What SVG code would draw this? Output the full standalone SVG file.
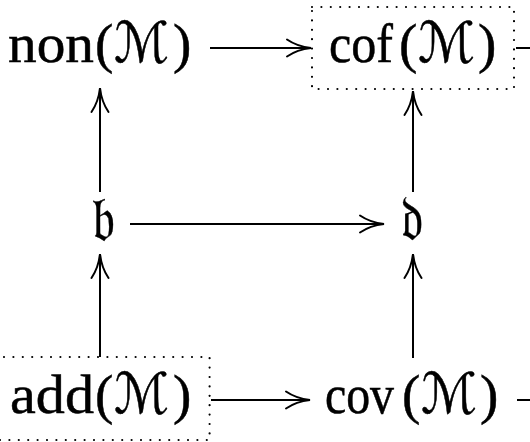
<svg xmlns="http://www.w3.org/2000/svg" width="530" height="442" viewBox="0 0 530 442">
<style>
.t{font-family:"Liberation Serif","DejaVu Serif",serif;font-size:55px;fill:#000;stroke:#000;stroke-width:0.5}
.m{font-family:"DejaVu Serif","DejaVu Sans",serif;font-size:56px}
.f{font-family:"DejaVu Sans","Noto Sans",serif;font-size:64px;fill:#000;stroke:#000;stroke-width:0.4}
.e{fill:none;stroke:#000;stroke-width:2}
.box{fill:none;stroke:#000;stroke-width:2.2;stroke-dasharray:0 9.4;stroke-linecap:round}
</style>
<defs>
<marker id="ah" markerUnits="userSpaceOnUse" markerWidth="30" markerHeight="20" refX="0" refY="0" viewBox="-26 -10 30 20" orient="auto" overflow="visible">
<path d="M-24,-8.5 C-16,-3 -7,-0.8 0,0 C-7,0.8 -16,3 -24,8.5" fill="none" stroke="#000" stroke-width="2" stroke-linecap="round"/>
</marker>
</defs>
<g id="non">
<text class="t" y="62"><tspan x="8" textLength="86" lengthAdjust="spacingAndGlyphs">non</tspan><tspan x="95">(</tspan><tspan class="m" x="114" textLength="55" lengthAdjust="spacingAndGlyphs">ℳ</tspan><tspan x="173">)</tspan></text>
</g>
<g id="cof">
<rect class="box" x="312" y="7" width="202" height="82"/>
<text class="t" y="62"><tspan x="329" textLength="64" lengthAdjust="spacingAndGlyphs">cof</tspan><tspan x="399">(</tspan><tspan class="m" x="418" textLength="57" lengthAdjust="spacingAndGlyphs">ℳ</tspan><tspan x="478">)</tspan></text>
</g>
<g id="b">
<text class="f" x="92" y="240" textLength="23" lengthAdjust="spacingAndGlyphs">𝔟</text>
</g>
<g id="d">
<text class="f" x="401" y="240" textLength="22" lengthAdjust="spacingAndGlyphs">𝔡</text>
</g>
<g id="add">
<rect class="box" x="-5.4" y="357" width="215" height="83"/>
<text class="t" y="413"><tspan x="10" textLength="84" lengthAdjust="spacingAndGlyphs">add</tspan><tspan x="95">(</tspan><tspan class="m" x="114" textLength="55" lengthAdjust="spacingAndGlyphs">ℳ</tspan><tspan x="173">)</tspan></text>
</g>
<g id="cov">
<text class="t" y="413"><tspan x="325" textLength="69" lengthAdjust="spacingAndGlyphs">cov</tspan><tspan x="402">(</tspan><tspan class="m" x="421" textLength="56" lengthAdjust="spacingAndGlyphs">ℳ</tspan><tspan x="480">)</tspan></text>
</g>
<g id="connectors">
<path class="e" d="M210,48 H311" marker-end="url(#ah)"/>
<path class="e" d="M516,48 H531"/>
<path class="e" d="M100,192 V88" marker-end="url(#ah)"/>
<path class="e" d="M413,192 V91" marker-end="url(#ah)"/>
<path class="e" d="M130,224 H384" marker-end="url(#ah)"/>
<path class="e" d="M100,357 V254" marker-end="url(#ah)"/>
<path class="e" d="M413,358 V254" marker-end="url(#ah)"/>
<path class="e" d="M211,400 H310" marker-end="url(#ah)"/>
<path class="e" d="M517,400 H531"/>
</g>
</svg>
